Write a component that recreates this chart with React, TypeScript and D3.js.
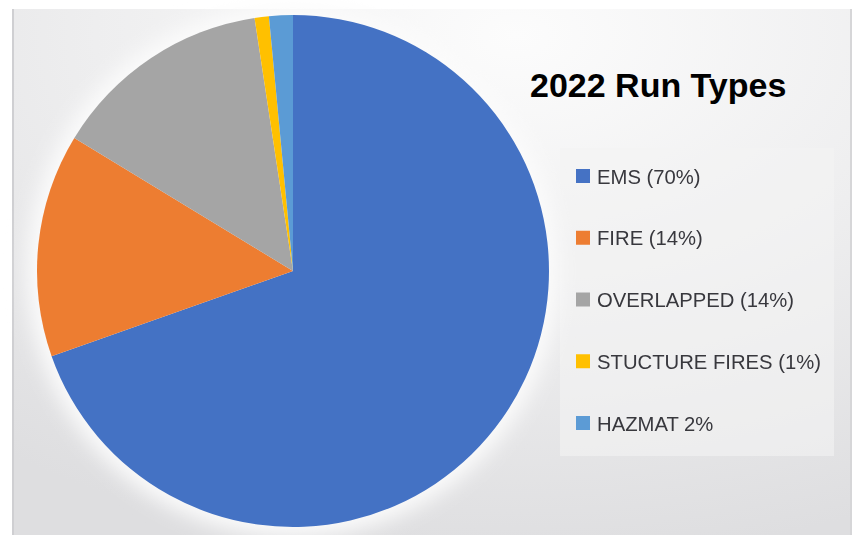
import React, { useEffect, useRef } from 'react';
import * as d3 from 'd3';

// slices (share of the circle, in %)
const categories = ['EMS', 'FIRE', 'OVERLAPPED', 'STUCTURE FIRES', 'HAZMAT'];
const shares = [69.6, 14.1, 13.9, 0.9, 1.5];
const legendLabels = ['EMS (70%)', 'FIRE (14%)', 'OVERLAPPED (14%)', 'STUCTURE FIRES (1%)', 'HAZMAT 2%'];
const colors = ['#4472C4', '#ED7D31', '#A5A5A5', '#FFC000', '#5B9BD5'];
const title = '2022 Run Types';

const W = 858;
const H = 535;

const App: React.FC = () => {
  const ref = useRef<SVGSVGElement | null>(null);

  useEffect(() => {
    if (!ref.current) return;
    const svg = d3.select(ref.current);
    svg.selectAll('*').remove();

    const defs = svg.append('defs');
    const bg = defs.append('radialGradient')
      .attr('id', 'bg')
      .attr('cx', '0.6').attr('cy', '0.05').attr('r', '1');
    bg.append('stop').attr('offset', '0%').attr('stop-color', '#fcfcfc');
    bg.append('stop').attr('offset', '50%').attr('stop-color', '#eeeeef');
    bg.append('stop').attr('offset', '100%').attr('stop-color', '#dedee0');

    defs.append('filter').attr('id', 'glow')
      .attr('x', '-20%').attr('y', '-20%').attr('width', '140%').attr('height', '140%')
      .append('feGaussianBlur').attr('stdDeviation', 10);
    defs.append('filter').attr('id', 'soft')
      .append('feGaussianBlur').attr('stdDeviation', 0.6);

    // page white, panel with border
    svg.append('rect').attr('width', W).attr('height', H).attr('fill', '#ffffff');
    svg.append('rect')
      .attr('x', 12).attr('y', 9).attr('width', 840).attr('height', H - 9)
      .attr('fill', 'url(#bg)');
    svg.append('line').attr('x1', 13).attr('x2', 13).attr('y1', 9).attr('y2', H)
      .attr('stroke', '#cfcfd2').attr('stroke-width', 2);
    svg.append('line').attr('x1', 851).attr('x2', 851).attr('y1', 9).attr('y2', H)
      .attr('stroke', '#d6d6d8').attr('stroke-width', 2);

    // legend panel
    svg.append('rect')
      .attr('x', 560).attr('y', 148).attr('width', 274).attr('height', 308)
      .attr('fill', '#f3f3f4').attr('opacity', 0.6);

    const cx = 293;
    const cy = 271;
    const r = 256;

    const g = svg.append('g').attr('transform', `translate(${cx},${cy})`);

    // soft white halo round the pie
    g.append('circle').attr('r', r + 10).attr('fill', '#fbfbfb').attr('filter', 'url(#glow)');

    const pie = d3.pie<number>().sort(null).value(d => d);
    const arc = d3.arc<d3.PieArcDatum<number>>().innerRadius(0).outerRadius(r);

    g.selectAll('path.slice')
      .data(pie(shares))
      .enter()
      .append('path')
      .attr('class', 'slice')
      .attr('d', arc)
      .attr('fill', (_, i) => colors[i]);

    svg.append('text')
      .attr('x', 530).attr('y', 97)
      .attr('font-family', 'Liberation Sans, Arial, sans-serif')
      .attr('font-weight', 'bold')
      .attr('font-size', 34)
      .attr('fill', '#000')
      .text(title);

    const ly = d3.scalePoint<string>().domain(categories).range([176, 423]);

    const leg = svg.append('g').attr('filter', 'url(#soft)');
    const items = leg.selectAll('g.item')
      .data(categories)
      .enter()
      .append('g')
      .attr('class', 'item')
      .attr('transform', d => `translate(576,${ly(d)})`);

    items.append('rect')
      .attr('x', 0).attr('y', -7).attr('width', 14).attr('height', 14)
      .attr('fill', (_, i) => colors[i]);

    items.append('text')
      .attr('transform', 'translate(21,7.5) scale(0.965,1)')
      .attr('font-family', 'Liberation Sans, Arial, sans-serif')
      .attr('font-size', 21)
      .attr('fill', '#38383e')
      .text((_, i) => legendLabels[i]);
  }, []);

  return (
    <svg
      ref={ref}
      width={W}
      height={H}
      style={{ position: 'absolute', left: 0, top: 0, display: 'block' }}
    />
  );
};

export default App;
